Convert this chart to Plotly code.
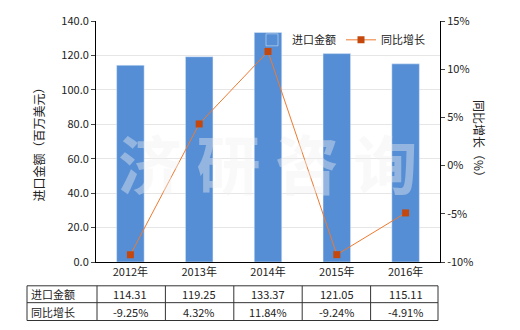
import plotly.graph_objects as go

years = ["2012年", "2013年", "2014年", "2015年", "2016年"]
imports = [114.31, 119.25, 133.37, 121.05, 115.11]
growth = [-9.25, 4.32, 11.84, -9.24, -4.91]
import_labels = ["114.31", "119.25", "133.37", "121.05", "115.11"]
growth_labels = ["-9.25%", "4.32%", "11.84%", "-9.24%", "-4.91%"]
row_names = ["进口金额", "同比增长"]
right_ticks = [-10, -5, 0, 5, 10, 15]
right_tick_text = ["-10%", "-5%", "0%", "5%", "10%", "15%"]

FONT = "Noto Sans CJK SC, Microsoft YaHei, sans-serif"
W, H = 520, 330
L, R, T, B = 96, 80, 19, 68
pw, ph = W - L - R, H - T - B

def px_x(x):
    return (x - L) / pw

def px_y(y):
    return (H - B - y) / ph

fig = go.Figure()
fig.add_trace(go.Bar(x=years, y=imports, name="进口金额", marker_color="#558ed5",
                     width=0.4, yaxis="y"))
fig.add_trace(go.Scatter(x=years, y=growth, name="同比增长", yaxis="y2",
                         mode="lines+markers",
                         line=dict(color="#ee7a30", width=1),
                         marker=dict(symbol="square", size=7, color="#c4480e")))

shapes = []
line_style = dict(color="#333333", width=1)
ys = [px_y(286), px_y(303), px_y(321)]
x_left, x_first, x_right = px_x(27), px_x(97), px_x(438)
for yv in ys:
    shapes.append(dict(type="line", xref="paper", yref="paper", x0=x_left, x1=x_right,
                       y0=yv, y1=yv, line=line_style))
col_edges = [x_left, x_first] + [px_x(97 + 68.4 * (i + 1)) for i in range(4)] + [x_right]
for xv in col_edges:
    shapes.append(dict(type="line", xref="paper", yref="paper", x0=xv, x1=xv,
                       y0=ys[0], y1=ys[2], line=line_style))

annotations = []
for i, name in enumerate(row_names):
    annotations.append(dict(text=name, xref="paper", yref="paper", x=px_x(29),
                            y=(ys[i] + ys[i + 1]) / 2, xanchor="left", yanchor="middle",
                            showarrow=False, font=dict(size=11, color="#222", family=FONT)))
for row, labels in enumerate([import_labels, growth_labels]):
    for yr, lab in zip(years, labels):
        annotations.append(dict(text=lab, xref="x", yref="paper", x=yr,
                                y=(ys[row] + ys[row + 1]) / 2, xanchor="center",
                                yanchor="middle", showarrow=False,
                                font=dict(size=11, color="#222", family=FONT)))
annotations.append(dict(text="<b>济 研 咨 询</b>", xref="paper", yref="paper", x=0.5, y=0.42,
                        showarrow=False, font=dict(size=64, color="rgba(240,240,240,0.4)",
                                                   family=FONT)))
annotations.append(dict(text="同比增长（%）", xref="paper", yref="paper", x=px_x(490),
                        y=0.5, textangle=90, showarrow=False,
                        font=dict(size=12, color="#222", family=FONT)))

fig.update_layout(
    width=W, height=H, margin=dict(l=L, r=R, t=T, b=B),
    paper_bgcolor="white", plot_bgcolor="white",
    font=dict(family=FONT, size=11, color="#222"),
    showlegend=True,
    legend=dict(orientation="h", x=px_x(252), y=px_y(38), xanchor="left", yanchor="middle",
                bgcolor="rgba(0,0,0,0)", font=dict(size=11), itemwidth=30,
                tracegroupgap=0),
    bargap=0.6,
    xaxis=dict(showline=True, linecolor="black", linewidth=1, ticks="", tickfont=dict(size=11)),
    yaxis=dict(range=[0, 140], dtick=20, tickformat=".1f", showline=True, linecolor="black",
               ticks="outside", ticklen=4, gridcolor="#e6e6e6",
               title=dict(text="进口金额（百万美元）", font=dict(size=12), standoff=14)),
    yaxis2=dict(range=[-10, 15], tickvals=right_ticks, ticktext=right_tick_text,
                overlaying="y", side="right",
                showline=True, linecolor="black", ticks="outside", ticklen=4, showgrid=False,
                zeroline=False),
    shapes=shapes, annotations=annotations,
)
fig.write_html("out.html")
